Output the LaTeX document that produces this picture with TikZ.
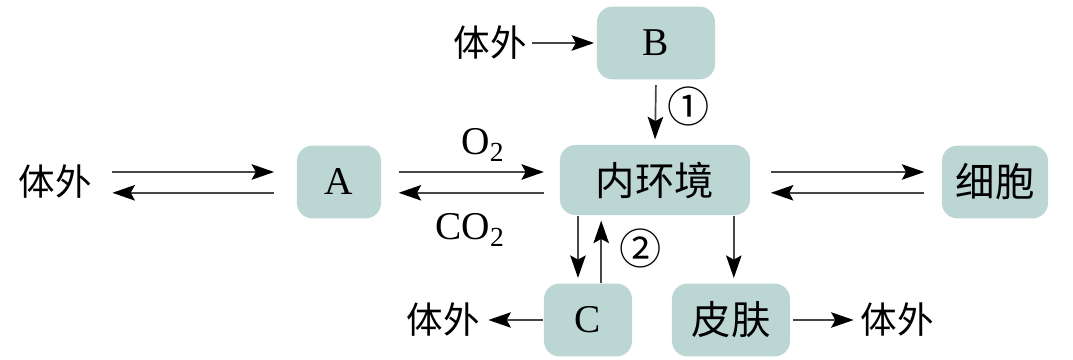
\documentclass[tikz,border=0pt]{standalone}
\usepackage{fontspec}
\setmainfont{Liberation Serif}
\newfontfamily\cjk{Noto Sans CJK SC}
\usetikzlibrary{arrows.meta}
\definecolor{boxfill}{RGB}{188,214,212}
\definecolor{linegray}{RGB}{70,70,70}

\begin{document}
\begin{tikzpicture}[x=0.025cm, y=-0.025cm, >={Stealth[length=16pt,width=11pt,inset=3pt,color=black]}, line width=1.2pt,
	box/.style={fill=boxfill, rounded corners=11pt, minimum height=1.82cm, inner sep=0pt, font=\fontsize{28}{32}\selectfont},
	txt/.style={inner sep=0pt, font=\cjk\fontsize{26}{30}\selectfont},
	num/.style={inner sep=0pt, font=\cjk\fontsize{30}{34}\selectfont},
	lbl/.style={inner sep=0pt, font=\fontsize{28}{32}\selectfont},
	flow/.style={->, draw=linegray}]
			\useasboundingbox (0,0) rectangle (1073,360);
			% boxes
			\node[box, minimum width=2.95cm] (B) at (656,43) {B};
			\node[box, minimum width=2.1cm] (A) at (339,182) {A};
			\node[box, minimum width=4.75cm, minimum height=1.75cm] (nhj) at (655,180) {\cjk 内环境};
			\node[box, minimum width=2.65cm] (xb) at (995,182) {\cjk 细胞};
			\node[box, minimum width=2.2cm] (C) at (588,320) {C};
			\node[box, minimum width=2.95cm] (pf) at (731,320) {\cjk 皮肤};
			% outside
			\node[txt] (tw1) at (55,182) {体外};
			\node[txt] (tw2) at (490,43) {体外};
			\node[txt] (tw3) at (443,320) {体外};
			\node[txt] (tw4) at (897,320) {体外};
			% exchange arrows
			\draw[flow, shorten <=0.5cm, shorten >=0.55cm] ([yshift=0.25cm]tw1.east) -- ([yshift=0.25cm]tw1.east -| A.west);
			\draw[flow, <-, shorten <=0.5cm, shorten >=0.55cm] ([yshift=-0.27cm]tw1.east) -- ([yshift=-0.27cm]tw1.east -| A.west);
			\draw[flow, shorten <=0.42cm, shorten >=0.38cm] ([yshift=0.25cm]A.east) -- ([yshift=0.25cm]A.east -| nhj.west);
			\draw[flow, <-, shorten <=0.42cm, shorten >=0.38cm] ([yshift=-0.27cm]A.east) -- ([yshift=-0.27cm]A.east -| nhj.west);
			\draw[flow, shorten <=0.5cm, shorten >=0.42cm] ([yshift=0.25cm]xb.west -| nhj.east) -- ([yshift=0.25cm]xb.west);
			\draw[flow, <-, shorten <=0.5cm, shorten >=0.42cm] ([yshift=-0.27cm]xb.west -| nhj.east) -- ([yshift=-0.27cm]xb.west);
			\node[lbl] (o2) at (483,145) {O\textsubscript{2}};
			\node[lbl] (co2) at (470,230) {CO\textsubscript{2}};
			% B and outputs
			\draw[flow, shorten <=0.12cm, shorten >=0.05cm] (tw2.east) -- (B.west);
			\draw[flow, shorten <=0.12cm, shorten >=0.12cm] (B.south) -- (nhj.north);
			\node[num] (n1) at (689,106) {①};
			\draw[flow, shorten >=0.12cm] ([xshift=-0.25cm]C.north |- nhj.south) -- ([xshift=-0.25cm]C.north);
			\draw[flow, <-, shorten <=0.12cm] ([xshift=0.33cm]C.north |- nhj.south) -- ([xshift=0.33cm]C.north);
			\node[num] (n2) at (641,248) {②};
			\draw[flow, shorten >=0.12cm] ([xshift=0.07cm]pf.north |- nhj.south) -- ([xshift=0.07cm]pf.north);
			\draw[flow, shorten >=0.2cm] (C.west) -- (tw3.east);
			\draw[flow, shorten <=0.05cm, shorten >=0.15cm] (pf.east) -- (tw4.west);
	\end{tikzpicture}
\end{document}
